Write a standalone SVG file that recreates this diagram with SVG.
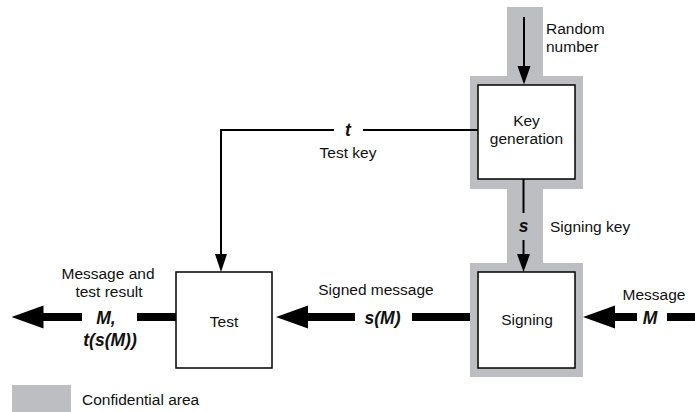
<svg xmlns="http://www.w3.org/2000/svg" width="695" height="412" viewBox="0 0 695 412">
  <style>
    .zone { fill: #bdbec1; }
    .box { fill: #ffffff; stroke: #000000; stroke-width: 1.5; }
    .lbl { font-family: "Liberation Sans", Arial, sans-serif; font-size: 15.5px; fill: #111111; }
    .var { font-family: "Liberation Sans", Arial, sans-serif; font-size: 17.5px; font-weight: bold; font-style: italic; fill: #111111; }
    .thin { stroke: #000000; stroke-width: 2; fill: none; }
    .thick { stroke: #000000; stroke-width: 8; fill: none; }
    .head { fill: #000000; }
  </style>

  <!-- confidential area: input channel, key generation, key path and signing -->
  <g id="confidential-zone">
    <rect class="zone" x="507" y="7" width="36" height="258"/>
    <rect class="zone" x="470" y="76" width="113" height="113"/>
    <rect class="zone" x="470" y="263" width="113" height="114"/>
  </g>

  <g id="keygen">
    <rect class="box" x="478" y="85" width="97" height="94"/>
    <text class="lbl" x="526.5" y="126" text-anchor="middle">Key</text>
    <text class="lbl" x="526.5" y="144" text-anchor="middle">generation</text>
  </g>

  <g id="signing">
    <rect class="box" x="478" y="272" width="97" height="96"/>
    <text class="lbl" x="527" y="325" text-anchor="middle">Signing</text>
  </g>

  <g id="test">
    <rect class="box" x="176" y="272" width="96" height="96"/>
    <text class="lbl" x="224" y="327" text-anchor="middle">Test</text>
  </g>

  <g id="connectors">
    <!-- random number into key generation -->
    <line class="thin" x1="524" y1="17" x2="524" y2="67"/>
    <polygon class="head" points="517.5,66 530.5,66 524,84.5"/>
    <text class="lbl" x="546" y="34">Random</text>
    <text class="lbl" x="546" y="52">number</text>

    <!-- test key t to the test box -->
    <polyline class="thin" points="478,130 363,130"/>
    <polyline class="thin" points="334,130 221,130 221,255"/>
    <polygon class="head" points="215,254 227,254 221,272"/>
    <text class="var" x="348" y="136" text-anchor="middle">t</text>
    <text class="lbl" x="348" y="158" text-anchor="middle">Test key</text>

    <!-- signing key s -->
    <line class="thin" x1="523.5" y1="179" x2="523.5" y2="213"/>
    <line class="thin" x1="523.5" y1="240" x2="523.5" y2="255"/>
    <polygon class="head" points="517,254 530,254 523.5,272"/>
    <text class="var" x="523.5" y="232" text-anchor="middle">s</text>
    <text class="lbl" x="550" y="232">Signing key</text>

    <!-- incoming message M -->
    <line class="thick" x1="667" y1="317" x2="695" y2="317"/>
    <line class="thick" x1="613" y1="317" x2="637" y2="317"/>
    <polygon class="head" points="583,317 615,305.5 615,328.5"/>
    <text class="var" x="650" y="324" text-anchor="middle">M</text>
    <text class="lbl" x="654" y="300" text-anchor="middle">Message</text>

    <!-- signed message s(M) -->
    <line class="thick" x1="412" y1="317" x2="470" y2="317"/>
    <line class="thick" x1="306" y1="317" x2="355" y2="317"/>
    <polygon class="head" points="276,317 308,305.5 308,328.5"/>
    <text class="var" x="382.5" y="324" text-anchor="middle">s(M)</text>
    <text class="lbl" x="376" y="295" text-anchor="middle">Signed message</text>

    <!-- message and test result out -->
    <line class="thick" x1="137" y1="317" x2="176" y2="317"/>
    <line class="thick" x1="41" y1="317" x2="82" y2="317"/>
    <polygon class="head" points="11.5,317 43.5,305.5 43.5,328.5"/>
    <text class="var" x="106" y="324" text-anchor="middle">M,</text>
    <text class="var" x="110" y="346" text-anchor="middle">t(s(M))</text>
    <text class="lbl" x="108" y="279" text-anchor="middle">Message and</text>
    <text class="lbl" x="109" y="297" text-anchor="middle">test result</text>
  </g>

  <g id="legend">
    <rect class="zone" x="12" y="385" width="59" height="27"/>
    <text class="lbl" x="82" y="405">Confidential area</text>
  </g>
</svg>
